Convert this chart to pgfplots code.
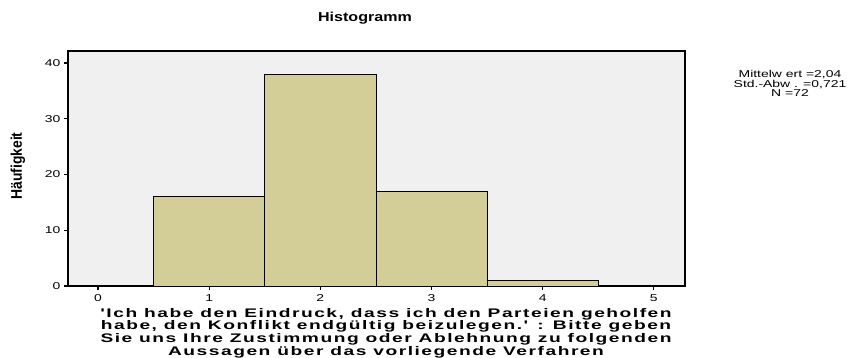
\documentclass[border=0pt]{standalone}
\usepackage{pgfplots}
\pgfplotsset{compat=1.18}
\usepackage{fontspec}
\setmainfont{Liberation Sans}
\newfontfamily\spss[LetterSpace=8]{Liberation Sans}
\definecolor{barfill}{RGB}{211,206,152}
\definecolor{plotbg}{RGB}{240,240,240}
\begin{document}
\begin{tikzpicture}
\useasboundingbox (-68bp,-72bp) rectangle (791bp,286bp);
\begin{axis}[
  at={(0,0)}, anchor=south west,
  scale only axis, width=617bp, height=235bp,
  xmin=-0.27, xmax=5.28, ymin=0, ymax=42.15,
  axis background/.style={fill=plotbg},
  axis line style={line width=1.2pt},
  xtick={0,1,2,3,4,5}, ytick={0,10,20,30,40},
  tick align=outside, xtick pos=bottom, ytick pos=left,
  major tick length=4bp,
  tick style={black, line width=1.2pt},
  xticklabel={\scalebox{1.4}[1]{\fontsize{10}{10}\selectfont\pgfmathprintnumber[assume math mode=true]{\tick}}},
  yticklabel={\scalebox{1.4}[1]{\fontsize{10}{10}\selectfont\pgfmathprintnumber[assume math mode=true]{\tick}}},
  xticklabel style={yshift=-1bp},
]
\addplot[ybar, bar width=1, bar shift=0pt, fill=barfill, draw=black, line width=0.8pt]
  coordinates {(1,16) (2,38) (3,17) (4,1)};
\end{axis}
% title
\node at (297bp,268bp) {\scalebox{1.24}[1]{\bfseries\fontsize{13}{13}\selectfont Histogramm}};
% y label
\node[rotate=90] at (-50bp,120bp) {\scalebox{0.9}[1]{\bfseries\fontsize{15.5}{15.5}\selectfont Häufigkeit}};
% x label
\node[anchor=north, inner sep=0pt] at (318bp,-22bp) {\scalebox{1.54}[1]{\spss\bfseries\fontsize{12.5}{12}\selectfont\begin{tabular}{@{}c@{}}'Ich habe den Eindruck, dass ich den Parteien geholfen\\ habe, den Konflikt endgültig beizulegen.' : Bitte geben\\ Sie uns Ihre Zustimmung oder Ablehnung zu folgenden\\ Aussagen über das vorliegende Verfahren\end{tabular}}};
% statistics
\node at (722bp,201bp) {\scalebox{1.4}[1]{\fontsize{10}{8}\selectfont\begin{tabular}{@{}c@{}}Mittelw ert =2,04\\ Std.-Abw . =0,721\\ N =72\end{tabular}}};
\end{tikzpicture}
\end{document}
